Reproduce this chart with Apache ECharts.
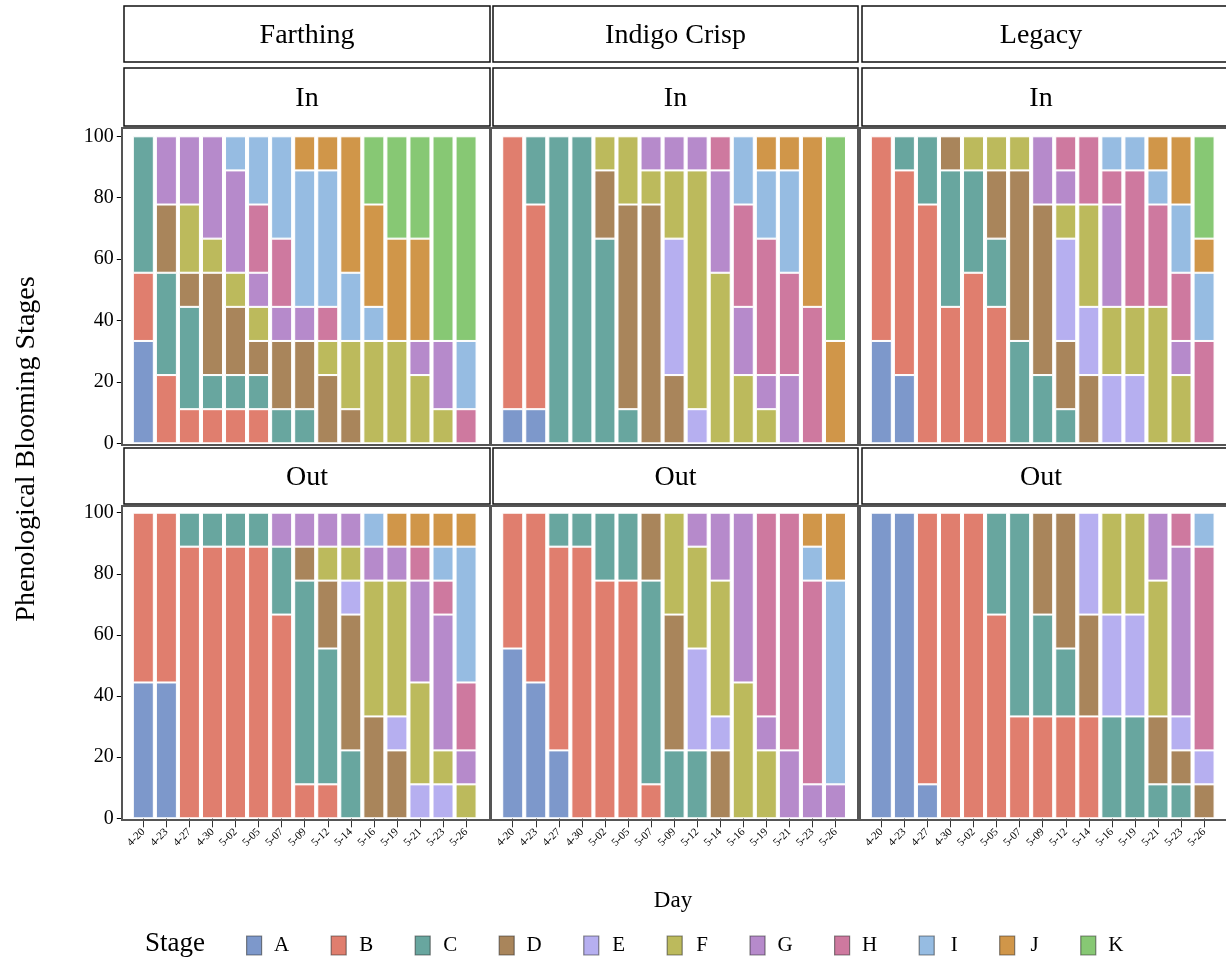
<!DOCTYPE html>
<html>
<head>
<meta charset="utf-8">
<script src="https://cdn.jsdelivr.net/npm/echarts@6/dist/echarts.min.js"></script>
<style>
  html, body { margin: 0; padding: 0; background: #fff; }
  #main { width: 1226px; height: 963px; }
</style>
</head>
<body>
<div id="main"></div>
<script>
// stages and colours
const stages = ['A', 'B', 'C', 'D', 'E', 'F', 'G', 'H', 'I', 'J', 'K'];
const stageColors = ['#7d98cb', '#e07e6e', '#68a69f', '#a9855b', '#b6aff0', '#bcba5c',
  '#b68acb', '#ce799f', '#96bce2', '#d09649', '#87c874'];

const days = ['4-20', '4-23', '4-27', '4-30', '5-02', '5-05', '5-07', '5-09',
  '5-12', '5-14', '5-16', '5-19', '5-21', '5-23', '5-26'];

const varieties = ['Farthing', 'Indigo Crisp', 'Legacy'];
const positions = ['In', 'Out'];

// number of flowers in each stage per day (9 per day)
const farthingIn = {
  A: [3,0,0,0,0,0,0,0,0,0,0,0,0,0,0],
  B: [2,2,1,1,1,1,0,0,0,0,0,0,0,0,0],
  C: [4,3,3,1,1,1,1,1,0,0,0,0,0,0,0],
  D: [0,2,1,3,2,1,2,2,2,1,0,0,0,0,0],
  E: [0,0,0,0,0,0,0,0,0,0,0,0,0,0,0],
  F: [0,0,2,1,1,1,0,0,1,2,3,3,2,1,0],
  G: [0,2,2,3,3,1,1,1,0,0,0,0,1,2,0],
  H: [0,0,0,0,0,2,2,0,1,0,0,0,0,0,1],
  I: [0,0,0,0,1,2,3,4,4,2,1,0,0,0,2],
  J: [0,0,0,0,0,0,0,1,1,4,3,3,3,0,0],
  K: [0,0,0,0,0,0,0,0,0,0,2,3,3,6,6]
};
const indigoIn = {
  A: [1,1,0,0,0,0,0,0,0,0,0,0,0,0,0],
  B: [8,6,0,0,0,0,0,0,0,0,0,0,0,0,0],
  C: [0,2,9,9,6,1,0,0,0,0,0,0,0,0,0],
  D: [0,0,0,0,2,6,7,2,0,0,0,0,0,0,0],
  E: [0,0,0,0,0,0,0,4,1,0,0,0,0,0,0],
  F: [0,0,0,0,1,2,1,2,7,5,2,1,0,0,0],
  G: [0,0,0,0,0,0,1,1,1,3,2,1,2,0,0],
  H: [0,0,0,0,0,0,0,0,0,1,3,4,3,4,0],
  I: [0,0,0,0,0,0,0,0,0,0,2,2,3,0,0],
  J: [0,0,0,0,0,0,0,0,0,0,0,1,1,5,3],
  K: [0,0,0,0,0,0,0,0,0,0,0,0,0,0,6]
};
const legacyIn = {
  A: [3,2,0,0,0,0,0,0,0,0,0,0,0,0,0],
  B: [6,6,7,4,5,4,0,0,0,0,0,0,0,0,0],
  C: [0,1,2,4,3,2,3,2,1,0,0,0,0,0,0],
  D: [0,0,0,1,0,2,5,5,2,2,0,0,0,0,0],
  E: [0,0,0,0,0,0,0,0,3,2,2,2,0,0,0],
  F: [0,0,0,0,1,1,1,0,1,3,2,2,4,2,0],
  G: [0,0,0,0,0,0,0,2,1,0,3,0,0,1,0],
  H: [0,0,0,0,0,0,0,0,1,2,1,4,3,2,3],
  I: [0,0,0,0,0,0,0,0,0,0,1,1,1,2,2],
  J: [0,0,0,0,0,0,0,0,0,0,0,0,1,2,1],
  K: [0,0,0,0,0,0,0,0,0,0,0,0,0,0,3]
};
const farthingOut = {
  A: [4,4,0,0,0,0,0,0,0,0,0,0,0,0,0],
  B: [5,5,8,8,8,8,6,1,1,0,0,0,0,0,0],
  C: [0,0,1,1,1,1,2,6,4,2,0,0,0,0,0],
  D: [0,0,0,0,0,0,0,1,2,4,3,2,0,0,0],
  E: [0,0,0,0,0,0,0,0,0,1,0,1,1,1,0],
  F: [0,0,0,0,0,0,0,0,1,1,4,4,3,1,1],
  G: [0,0,0,0,0,0,1,1,1,1,1,1,3,4,1],
  H: [0,0,0,0,0,0,0,0,0,0,0,0,1,1,2],
  I: [0,0,0,0,0,0,0,0,0,0,1,0,0,1,4],
  J: [0,0,0,0,0,0,0,0,0,0,0,1,1,1,1],
  K: [0,0,0,0,0,0,0,0,0,0,0,0,0,0,0]
};
const indigoOut = {
  A: [5,4,2,0,0,0,0,0,0,0,0,0,0,0,0],
  B: [4,5,6,8,7,7,1,0,0,0,0,0,0,0,0],
  C: [0,0,1,1,2,2,6,2,2,0,0,0,0,0,0],
  D: [0,0,0,0,0,0,2,4,0,2,0,0,0,0,0],
  E: [0,0,0,0,0,0,0,0,3,1,0,0,0,0,0],
  F: [0,0,0,0,0,0,0,3,3,4,4,2,0,0,0],
  G: [0,0,0,0,0,0,0,0,1,2,5,1,2,1,1],
  H: [0,0,0,0,0,0,0,0,0,0,0,6,7,6,0],
  I: [0,0,0,0,0,0,0,0,0,0,0,0,0,1,6],
  J: [0,0,0,0,0,0,0,0,0,0,0,0,0,1,2],
  K: [0,0,0,0,0,0,0,0,0,0,0,0,0,0,0]
};
const legacyOut = {
  A: [9,9,1,0,0,0,0,0,0,0,0,0,0,0,0],
  B: [0,0,8,9,9,6,3,3,3,3,0,0,0,0,0],
  C: [0,0,0,0,0,3,6,3,2,0,3,3,1,1,0],
  D: [0,0,0,0,0,0,0,3,4,3,0,0,2,1,1],
  E: [0,0,0,0,0,0,0,0,0,3,3,3,0,1,1],
  F: [0,0,0,0,0,0,0,0,0,0,3,3,4,0,0],
  G: [0,0,0,0,0,0,0,0,0,0,0,0,2,5,0],
  H: [0,0,0,0,0,0,0,0,0,0,0,0,0,1,6],
  I: [0,0,0,0,0,0,0,0,0,0,0,0,0,0,1],
  J: [0,0,0,0,0,0,0,0,0,0,0,0,0,0,0],
  K: [0,0,0,0,0,0,0,0,0,0,0,0,0,0,0]
};
const panels = [farthingIn, indigoIn, legacyIn, farthingOut, indigoOut, legacyOut];

const font = '"Liberation Serif", "Times New Roman", serif';
const colLeft = [131.8, 501.2, 869.8];
const colFrame = [[122, 490], [491, 858], [860, 1232]];
const rowTop = [136.3, 512.7];
const rowHeight = [307, 305.6];
const rowFrame = [[128, 445], [506, 820]];

var myChart = echarts.init(document.getElementById('main'));

var grid = [], xAxis = [], yAxis = [], series = [], graphic = [];

panels.forEach(function (panel, p) {
  var r = Math.floor(p / 3), c = p % 3;
  grid.push({ left: colLeft[c], top: rowTop[r], width: 345.8, height: rowHeight[r] });
  xAxis.push({
    type: 'category', gridIndex: p, data: days, boundaryGap: true,
    show: r === 1, offset: 2,
    axisLine: { show: false },
    axisTick: { show: true, alignWithLabel: true, length: 9, lineStyle: { color: '#333' } },
    axisLabel: { rotate: 45, fontSize: 11, fontFamily: font, color: '#000', margin: 10, interval: 0 }
  });
  yAxis.push({
    type: 'value', gridIndex: p, min: 0, max: 100, interval: 20,
    show: c === 0, offset: 10,
    axisLine: { show: false },
    axisTick: { show: true, length: 5, lineStyle: { color: '#000' } },
    axisLabel: { fontSize: 20, fontFamily: font, color: '#000', margin: 8 },
    splitLine: { show: false }
  });
  // totals per day, used to turn counts into percent
  var totals = days.map(function (d, i) {
    return stages.reduce(function (s, k) { return s + panel[k][i]; }, 0);
  });
  stages.forEach(function (s, k) {
    series.push({
      name: s, type: 'bar', stack: 'p' + p,
      xAxisIndex: p, yAxisIndex: p,
      barWidth: 21,
      itemStyle: { color: stageColors[k], borderColor: '#fff', borderWidth: 1 },
      data: panel[s].map(function (v, i) { return v ? v / totals[i] * 100 : '-'; })
    });
  });
  // panel frame
  graphic.push({
    type: 'rect', silent: true, z: 10,
    shape: { x: colFrame[c][0], y: rowFrame[r][0], width: colFrame[c][1] - colFrame[c][0], height: rowFrame[r][1] - rowFrame[r][0] },
    style: { fill: 'none', stroke: '#555', lineWidth: 2 }
  });
});

// header strips
function strip(x0, x1, y0, y1, label) {
  graphic.push({
    type: 'rect', silent: true, z: 11,
    shape: { x: x0, y: y0, width: x1 - x0, height: y1 - y0 },
    style: { fill: '#fff', stroke: '#111', lineWidth: 1.5 }
  });
  graphic.push({
    type: 'text', silent: true, z: 12,
    x: (x0 + Math.min(x1, 1226)) / 2 + (x1 > 1226 ? -3 : 0), y: (y0 + y1) / 2 + 2,
    style: { text: label, font: '28px ' + font, fill: '#000', align: 'center', verticalAlign: 'middle' }
  });
}
var stripX = [[124, 490], [493, 858], [862, 1232]];
varieties.forEach(function (v, c) {
  strip(stripX[c][0], stripX[c][1], 6, 62, v);
  strip(stripX[c][0], stripX[c][1], 68, 126, positions[0]);
  strip(stripX[c][0], stripX[c][1], 448, 504, positions[1]);
});

graphic.push({
  type: 'text', silent: true, x: 27, y: 449, rotation: Math.PI / 2,
  style: { text: 'Phenological Blooming Stages', font: '28px ' + font, fill: '#000', align: 'center', verticalAlign: 'middle' }
});
graphic.push({
  type: 'text', silent: true, x: 673, y: 901,
  style: { text: 'Day', font: '23px ' + font, fill: '#000', align: 'center', verticalAlign: 'middle' }
});
graphic.push({
  type: 'text', silent: true, x: 145, y: 944,
  style: { text: 'Stage', font: '27px ' + font, fill: '#000', align: 'left', verticalAlign: 'middle' }
});

myChart.setOption({
  animation: false,
  color: stageColors,
  legend: {
    data: stages, left: 246, top: 935, padding: 0,
    icon: 'rect', itemWidth: 15, itemHeight: 19, itemGap: 41.4,
    itemStyle: { borderColor: 'rgba(40,40,40,0.55)', borderWidth: 1.2 },
    selectedMode: false,
    formatter: function (name) { return '{t|' + name + '}'; },
    textStyle: {
      fontFamily: font, fontSize: 21, color: '#000',
      rich: { t: { width: 30, align: 'center', fontFamily: font, fontSize: 21, color: '#000' } }
    }
  },
  grid: grid,
  xAxis: xAxis,
  yAxis: yAxis,
  series: series,
  graphic: graphic
});
window.addEventListener('resize', function () {
  myChart.resize();
});
</script>
</body>
</html>
